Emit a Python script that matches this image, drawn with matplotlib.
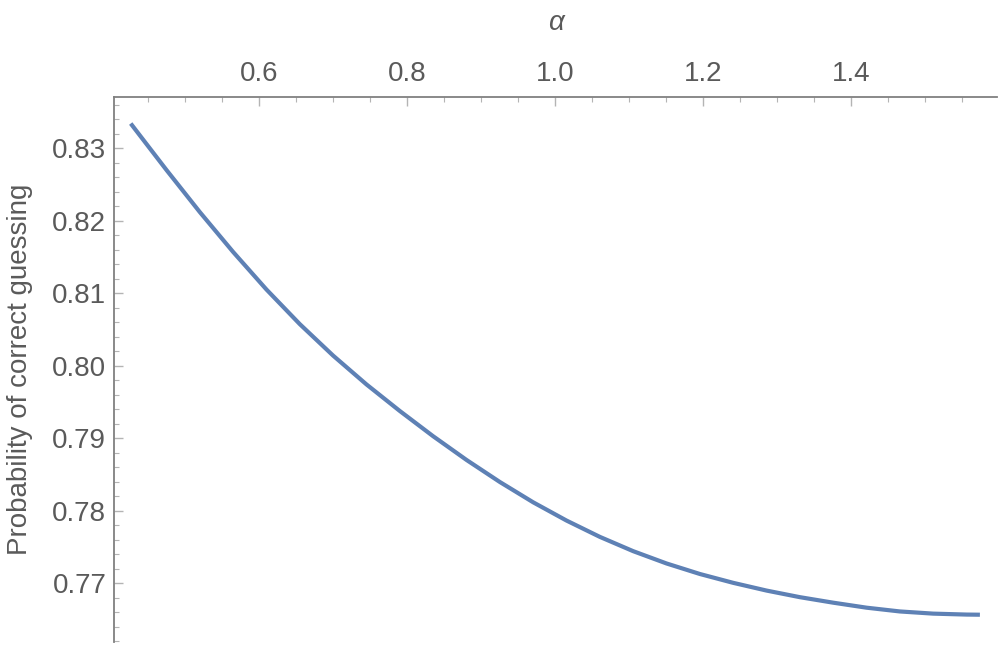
import matplotlib
matplotlib.use('Agg')
import matplotlib.pyplot as plt
from matplotlib.ticker import MultipleLocator, FormatStrFormatter

# Curve values
alpha = [0.4266, 0.4749, 0.5199, 0.5649, 0.6100, 0.6550, 0.7000, 0.7451,
         0.7901, 0.8351, 0.8803, 0.9253, 0.9703, 1.0154, 1.0604, 1.1054,
         1.1505, 1.1955, 1.2405, 1.2857, 1.3307, 1.3757, 1.4208, 1.4658,
         1.5108, 1.5559, 1.5739]
probCorrect = [0.83342, 0.82701, 0.82121, 0.81571, 0.81052, 0.80575, 0.80141,
               0.79743, 0.79377, 0.79029, 0.78701, 0.78397, 0.78117, 0.77865,
               0.77640, 0.77443, 0.77273, 0.77128, 0.77006, 0.76899, 0.76808,
               0.76732, 0.76663, 0.76611, 0.76581, 0.76568, 0.76566]

textColor = '#5a5a5a'
axisColor = '#808080'
tickColor = '#b4b4b4'
plt.rcParams['font.family'] = ['Liberation Sans', 'DejaVu Sans']

fig = plt.figure(figsize=(10, 6.48), dpi=100)
ax = fig.add_axes([0.114, 0.0093, 0.883, 0.841])

ax.plot(alpha, probCorrect, color='#5E81B5', linewidth=3.0,
        solid_capstyle='butt', solid_joinstyle='round')

ax.set_xlim(0.404, 1.597)
ax.set_ylim(0.7619, 0.83708)

# Mathematica-like frame: axes on top and left only
for side in ['right', 'bottom']:
    ax.spines[side].set_visible(False)
for side in ['left', 'top']:
    ax.spines[side].set_color(axisColor)
    ax.spines[side].set_linewidth(1.3)

ax.xaxis.tick_top()
ax.xaxis.set_major_locator(MultipleLocator(0.2))
ax.xaxis.set_minor_locator(MultipleLocator(0.05))
ax.xaxis.set_major_formatter(FormatStrFormatter('%.1f'))
ax.yaxis.set_major_locator(MultipleLocator(0.01))
ax.yaxis.set_minor_locator(MultipleLocator(0.002))
ax.yaxis.set_major_formatter(FormatStrFormatter('%.2f'))

ax.tick_params(which='major', direction='in', length=6.5, width=1.0,
               color=tickColor, labelcolor=textColor, labelsize=20)
ax.tick_params(axis='x', which='major', pad=7.5)
ax.tick_params(axis='y', which='major', pad=5.5)
ax.tick_params(which='minor', direction='in', length=3.6, width=0.8, color=tickColor)

ax.xaxis.set_label_position('top')
ax.set_xlabel('α', fontsize=20, color=textColor, style='italic', labelpad=22)
ax.set_ylabel('Probability of correct guessing', fontsize=20, color=textColor)
ax.yaxis.set_label_coords(-0.092, 0.5)

fig.savefig('out.png', dpi=100)
